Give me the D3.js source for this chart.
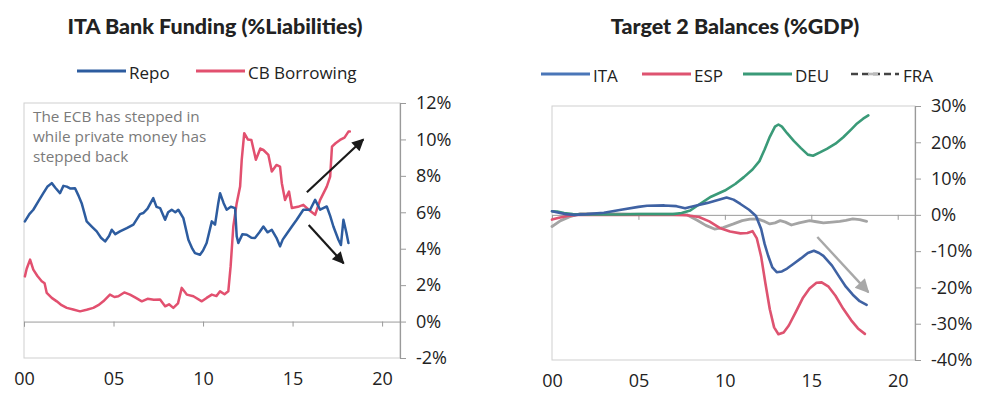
<!DOCTYPE html>
<html>
<head>
<meta charset="utf-8">
<script src="https://cdn.jsdelivr.net/npm/d3@7"></script>
<style>
  html, body { margin: 0; padding: 0; background: #fff; }
  svg { display: block; }
  .title { font-family: Lato, "Open Sans", sans-serif; font-weight: 900; font-size: 21.5px; fill: #222; }
  .legend { font-family: "Open Sans", sans-serif; font-size: 17px; fill: #222; }
  .tick text { font-family: "Open Sans", sans-serif; font-size: 18px; fill: #222; }
  .note { font-family: "Open Sans", sans-serif; font-size: 15.3px; fill: #7a7a7a; }
</style>
</head>
<body>
<svg id="chart" width="981" height="394"></svg>
<script>
// ---- Italian bank funding, % of liabilities: [year, value] ----
const repo = [
  [2000.05,5.5],[2000.3,5.9],[2000.52,6.14],[2000.8,6.6],[2001.08,7.05],[2001.3,7.4],[2001.55,7.6],
  [2001.75,7.35],[2002.01,7.05],[2002.2,7.45],[2002.39,7.41],[2002.6,7.3],[2002.85,7.32],[2003.05,6.9],
  [2003.22,6.5],[2003.5,5.5],[2003.8,5.2],[2004.06,4.95],[2004.3,4.6],[2004.53,4.4],[2004.75,4.7],
  [2004.9,5.04],[2005.1,4.8],[2005.36,4.95],[2005.74,5.13],[2006.11,5.32],[2006.48,5.9],[2006.66,5.96],
  [2006.9,6.2],[2007.22,6.78],[2007.4,6.3],[2007.6,6.23],[2007.88,5.59],[2008.05,6.0],[2008.25,6.14],
  [2008.45,6.0],[2008.62,6.14],[2008.9,5.68],[2009.18,4.49],[2009.4,4.0],[2009.55,3.76],[2009.83,3.67],
  [2010.0,3.9],[2010.2,4.31],[2010.49,5.5],[2010.67,5.32],[2010.85,6.5],[2010.95,7.05],[2011.15,6.5],
  [2011.32,6.14],[2011.55,6.3],[2011.79,6.23],[2011.88,4.68],[2011.97,4.31],[2012.2,4.8],[2012.44,4.77],
  [2012.7,4.6],[2012.9,4.59],[2013.15,4.9],[2013.37,5.22],[2013.6,4.9],[2013.84,5.04],[2014.1,4.6],
  [2014.3,4.13],[2014.45,4.5],[2014.58,4.68],[2014.96,5.22],[2015.23,5.59],[2015.6,6.14],[2015.98,6.14],
  [2016.26,6.68],[2016.54,6.14],[2016.91,6.32],[2017.1,5.8],[2017.28,5.22],[2017.56,4.49],[2017.7,4.2],
  [2017.84,5.59],[2018.0,4.9],[2018.12,4.31]
];
const cbBorrowing = [
  [2000.05,2.48],[2000.15,2.9],[2000.34,3.4],[2000.52,2.85],[2000.75,2.5],[2000.99,2.21],[2001.15,2.1],
  [2001.27,1.57],[2001.55,1.3],[2001.83,1.11],[2002.1,0.9],[2002.39,0.75],[2002.75,0.66],[2003.13,0.56],
  [2003.5,0.65],[2003.87,0.75],[2004.15,0.9],[2004.43,1.11],[2004.8,1.48],[2005.05,1.35],[2005.27,1.39],
  [2005.6,1.6],[2005.92,1.48],[2006.25,1.3],[2006.58,1.11],[2006.9,1.25],[2007.25,1.2],[2007.6,1.21],
  [2007.88,0.84],[2008.1,0.95],[2008.34,0.75],[2008.6,1.0],[2008.81,1.85],[2009.09,1.48],[2009.46,1.39],
  [2009.93,1.11],[2010.2,1.3],[2010.49,1.48],[2010.75,1.4],[2010.95,1.66],[2011.2,1.5],[2011.41,1.66],
  [2011.54,3.03],[2011.69,5.22],[2011.88,6.5],[2012.07,7.41],[2012.16,8.88],[2012.3,10.34],[2012.5,10.0],
  [2012.7,9.97],[2012.95,8.88],[2013.2,9.5],[2013.37,9.42],[2013.65,9.15],[2013.84,8.24],[2014.1,8.6],
  [2014.3,8.51],[2014.4,7.6],[2014.58,6.68],[2014.8,7.14],[2014.96,6.23],[2015.3,6.3],[2015.6,6.41],
  [2015.9,6.14],[2016.26,5.86],[2016.54,6.68],[2016.91,7.41],[2017.1,7.96],[2017.2,9.6],[2017.4,9.79],
  [2017.65,9.97],[2017.9,10.1],[2018.12,10.43],[2018.2,10.43]
];

// ---- TARGET2 balances, % of GDP: [year, value] ----
const ita = [
  [2000.0,1.0],[2000.4,0.6],[2000.8,0.2],[2001.3,0.0],[2002,0.2],[2003,0.6],[2004,1.4],[2005,2.2],
  [2005.5,2.5],[2006.5,2.6],[2007.2,2.4],[2007.7,1.8],[2008.3,2.5],[2009,3.3],[2009.6,4.1],[2010.1,4.8],
  [2010.5,4.2],[2010.9,3.0],[2011.4,1.4],[2011.8,-0.3],[2012.1,-3.9],[2012.3,-8.0],[2012.5,-11.2],
  [2012.75,-14.5],[2013.0,-15.8],[2013.3,-15.6],[2013.6,-14.8],[2014.0,-13.4],[2014.4,-12.0],
  [2014.8,-10.5],[2015.15,-9.9],[2015.45,-10.5],[2015.7,-11.3],[2016.2,-14.0],[2016.65,-17.3],
  [2017.0,-19.8],[2017.4,-22.0],[2017.8,-23.8],[2018.2,-24.8]
];
const esp = [
  [2000.0,-1.3],[2000.4,-0.8],[2000.9,-0.3],[2001.5,0.0],[2003,0.0],[2005,0.0],[2007,0.0],[2007.8,-0.1],
  [2008.5,-0.6],[2009.1,-1.8],[2009.7,-3.6],[2010.3,-4.6],[2010.9,-5.1],[2011.3,-5.0],[2011.6,-4.5],
  [2011.85,-6.5],[2012.1,-11.5],[2012.35,-19.0],[2012.6,-26.0],[2012.85,-31.0],[2013.1,-32.9],
  [2013.4,-32.4],[2013.7,-30.5],[2014.1,-26.8],[2014.5,-23.0],[2014.9,-20.3],[2015.3,-18.7],
  [2015.6,-18.6],[2016.0,-19.8],[2016.4,-22.3],[2016.85,-25.9],[2017.3,-29.0],[2017.7,-31.3],[2018.1,-32.8]
];
const deu = [
  [2000.0,1.0],[2000.3,0.9],[2000.7,0.5],[2001.2,0.2],[2002,0.1],[2003,0.1],[2004,0.1],[2005,0.2],
  [2006,0.2],[2007,0.2],[2007.5,0.5],[2008,1.2],[2008.55,3.0],[2009.2,5.0],[2010.0,6.7],[2010.6,8.5],
  [2011.1,10.4],[2011.6,12.5],[2012.0,14.8],[2012.3,18.0],[2012.6,21.5],[2012.9,24.3],[2013.1,24.9],
  [2013.3,24.3],[2013.6,22.5],[2014.0,20.3],[2014.4,18.4],[2014.8,16.6],[2015.1,16.3],[2015.5,17.2],
  [2015.9,18.2],[2016.4,19.6],[2016.85,21.4],[2017.3,23.5],[2017.65,25.2],[2018.0,26.5],[2018.3,27.4]
];
const fra = [
  [2000.0,-3.2],[2000.5,-1.6],[2001.0,-0.6],[2001.6,0.3],[2003,0.3],[2005,0.2],[2007,0.2],[2007.8,0.0],
  [2008.4,-1.5],[2008.9,-2.9],[2009.4,-3.9],[2009.9,-3.5],[2010.5,-2.5],[2011.0,-1.6],[2011.45,-1.2],
  [2011.9,-1.1],[2012.3,-1.8],[2012.6,-2.5],[2012.9,-2.2],[2013.2,-1.6],[2013.5,-2.0],[2013.85,-2.8],
  [2014.3,-2.2],[2014.9,-1.6],[2015.3,-1.9],[2015.7,-2.2],[2016.2,-2.0],[2016.65,-1.8],[2017.0,-1.5],
  [2017.4,-1.1],[2017.8,-1.3],[2018.2,-1.8]
];

// ---- tick values and labels ----
const yearTicks = [2000, 2005, 2010, 2015, 2020];
const yearLabels = ["00", "05", "10", "15", "20"];
const fundingTicks = [-2, 0, 2, 4, 6, 8, 10, 12];
const balanceTicks = [-40, -30, -20, -10, 0, 10, 20, 30];
const noteLines = ["The ECB has stepped in", "while private money has", "stepped back"];

// ---- annotation arrows in data units: [x0, y0, x1, y1] ----
const fundingArrows = [[2015.8, 7.1, 2018.95, 10.0], [2015.9, 5.3, 2017.85, 3.2]];
const balanceArrow = [2015.35, -6.1, 2018.3, -21.3];

const svg = d3.select("#chart");
const grey = "#9a9a9a";
const frameCol = "#cfcfcf";

const defs = svg.append("defs");
function marker(id, color, w, h) {
  defs.append("marker").attr("id", id)
    .attr("viewBox", "0 0 10 10").attr("refX", 9).attr("refY", 5)
    .attr("markerWidth", w).attr("markerHeight", h).attr("markerUnits", "userSpaceOnUse")
    .attr("orient", "auto")
    .append("path").attr("d", "M0,0 L10,5 L0,10 Z").attr("fill", color);
}
marker("headBlack", "#1a1a1a", 14, 12);
marker("headGrey", "#a8a8a8", 16, 14);

// panel builder -------------------------------------------------------------
function panel(opts) {
  const { x, y, ticks, fmt } = opts;
  const g = svg.append("g");
  const [x0, x1] = x.range();
  const [yb, yt] = y.range();

  // frame
  g.append("rect").attr("x", x0).attr("y", yt).attr("width", x1 - x0).attr("height", yb - yt)
    .attr("fill", "none").attr("stroke", frameCol).attr("stroke-width", 1);

  // right value axis
  const ax = g.append("g").attr("transform", `translate(${x1},0)`)
    .call(d3.axisRight(y).tickValues(ticks).tickSize(6).tickPadding(10).tickFormat(fmt));
  ax.select(".domain").attr("stroke", grey).attr("stroke-width", 1.2);
  ax.selectAll(".tick line").attr("stroke", grey);

  // zero line with year ticks
  const zx = g.append("g").attr("transform", `translate(0,${y(0)})`)
    .call(d3.axisBottom(x).tickValues(yearTicks).tickSize(5).tickFormat(""));
  zx.select(".domain").attr("stroke", grey).attr("stroke-width", 1);
  zx.selectAll(".tick line").attr("stroke", grey);

  // year labels along the bottom
  const bx = g.append("g").attr("transform", `translate(0,${yb + 11})`)
    .call(d3.axisBottom(x).tickValues(yearTicks).tickSize(0)
      .tickFormat((d, i) => yearLabels[i]));
  bx.select(".domain").remove();

  return g;
}

function drawLine(g, data, x, y, color, width) {
  g.append("path").datum(data)
    .attr("fill", "none").attr("stroke", color).attr("stroke-width", width)
    .attr("stroke-linejoin", "round").attr("stroke-linecap", "round")
    .attr("d", d3.line().x(d => x(d[0])).y(d => y(d[1])));
}

// ---- left panel: bank funding ----
const xL = d3.scaleLinear().domain([2000, 2021]).range([24, 400]);
const yL = d3.scaleLinear().domain([-2, 12]).range([358, 103]);
const gL = panel({ x: xL, y: yL, ticks: fundingTicks, fmt: d => d + "%" });

const repoCol = "#2d5c9f", cbCol = "#e2506f";
drawLine(gL, cbBorrowing, xL, yL, cbCol, 2.5);
drawLine(gL, repo, xL, yL, repoCol, 2.5);

gL.selectAll("text.note").data(noteLines).join("text").attr("class", "note")
  .attr("x", 33).attr("y", (d, i) => 122 + i * 20).text(d => d);

gL.selectAll("line.arrow").data(fundingArrows).join("line").attr("class", "arrow")
  .attr("x1", d => xL(d[0])).attr("y1", d => yL(d[1]))
  .attr("x2", d => xL(d[2])).attr("y2", d => yL(d[3]))
  .attr("stroke", "#1a1a1a").attr("stroke-width", 2.2).attr("marker-end", "url(#headBlack)");

// ---- right panel: TARGET2 balances ----
const xR = d3.scaleLinear().domain([2000, 2021]).range([552, 915]);
const yR = d3.scaleLinear().domain([-40, 30]).range([360, 106]);
const gR = panel({ x: xR, y: yR, ticks: balanceTicks, fmt: d => d + "%" });

const itaCol = "#3f62a3", espCol = "#de5370", deuCol = "#3a9a78", fraCol = "#a4a4a4";
drawLine(gR, fra, xR, yR, fraCol, 2.8);
drawLine(gR, esp, xR, yR, espCol, 2.6);
drawLine(gR, deu, xR, yR, deuCol, 2.6);
drawLine(gR, ita, xR, yR, itaCol, 2.6);

gR.append("line")
  .attr("x1", xR(balanceArrow[0])).attr("y1", yR(balanceArrow[1]))
  .attr("x2", xR(balanceArrow[2])).attr("y2", yR(balanceArrow[3]))
  .attr("stroke", "#a8a8a8").attr("stroke-width", 2.4).attr("marker-end", "url(#headGrey)");

// ---- titles ----
svg.append("text").attr("class", "title").attr("x", 215).attr("y", 34)
  .attr("text-anchor", "middle").text("ITA Bank Funding (%Liabilities)");
svg.append("text").attr("class", "title").attr("x", 735).attr("y", 34)
  .attr("text-anchor", "middle").text("Target 2 Balances (%GDP)");

// ---- legends ----
function legendItem(x0, y0, label, color, dashed) {
  const g = svg.append("g");
  if (dashed) {
    g.append("line").attr("x1", x0).attr("x2", x0 + 48).attr("y1", y0).attr("y2", y0)
      .attr("stroke", "#444").attr("stroke-width", 2.6).attr("stroke-dasharray", "7,4");
    g.append("line").attr("x1", x0 + 17).attr("x2", x0 + 27).attr("y1", y0).attr("y2", y0)
      .attr("stroke", "#bbb").attr("stroke-width", 2.6);
  } else {
    g.append("line").attr("x1", x0).attr("x2", x0 + 49).attr("y1", y0).attr("y2", y0)
      .attr("stroke", color).attr("stroke-width", 3);
  }
  g.append("text").attr("class", "legend").attr("x", x0 + 52).attr("y", y0 + 8).text(label);
}
legendItem(77, 71, "Repo", repoCol);
legendItem(196, 71, "CB Borrowing", cbCol);
legendItem(541, 74, "ITA", "#4a76b8");
legendItem(642, 74, "ESP", espCol);
legendItem(743, 74, "DEU", deuCol);
legendItem(851, 74, "FRA", null, true);
</script>
</body>
</html>
